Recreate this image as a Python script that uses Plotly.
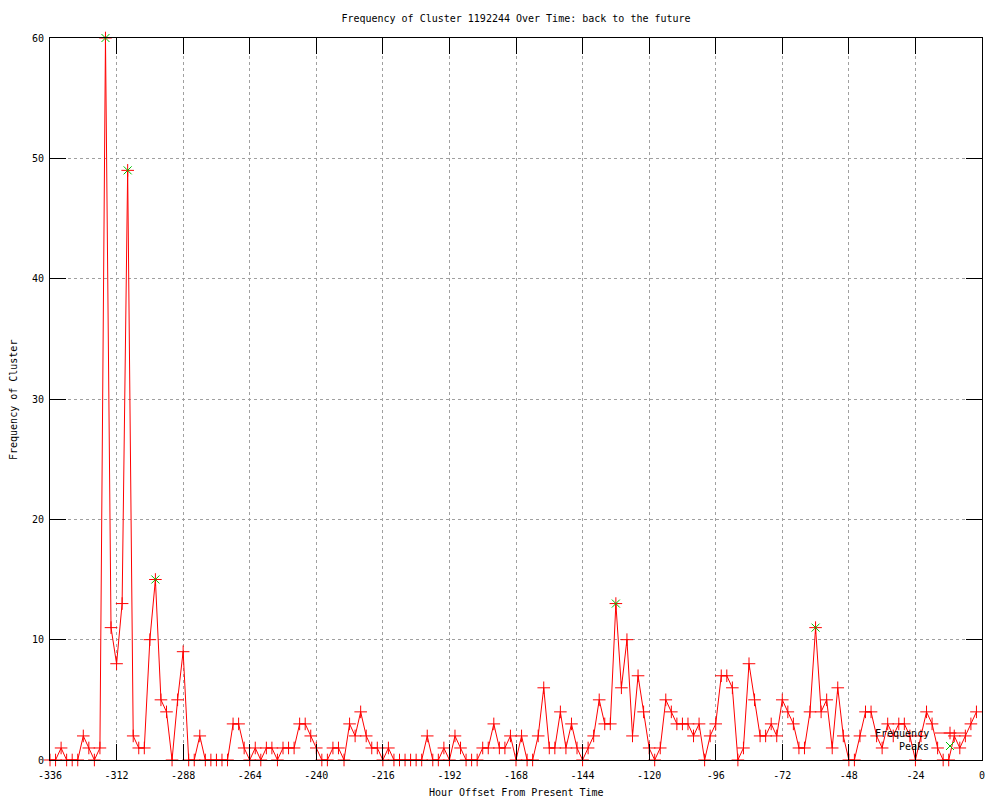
import plotly.graph_objects as go

# ---- data ----
hours = [
    -336, -334, -332, -330, -328, -326, -324, -322, -320, -318, -316, -314,
    -312, -310, -308, -306, -304, -302, -300, -298, -296, -294, -292, -290,
    -288, -286, -284, -282, -280, -278, -276, -274, -272, -270, -268, -266,
    -264, -262, -260, -258, -256, -254, -252, -250, -248, -246, -244, -242,
    -240, -238, -236, -234, -232, -230, -228, -226, -224, -222, -220, -218,
    -216, -214, -212, -210, -208, -206, -204, -202, -200, -198, -196, -194,
    -192, -190, -188, -186, -184, -182, -180, -178, -176, -174, -172, -170,
    -168, -166, -164, -162, -160, -158, -156, -154, -152, -150, -148, -146,
    -144, -142, -140, -138, -136, -134, -132, -130, -128, -126, -124, -122,
    -120, -118, -116, -114, -112, -110, -108, -106, -104, -102, -100, -98,
    -96, -94, -92, -90, -88, -86, -84, -82, -80, -78, -76, -74,
    -72, -70, -68, -66, -64, -62, -60, -58, -56, -54, -52, -50,
    -48, -46, -44, -42, -40, -38, -36, -34, -32, -30, -28, -26,
    -24, -22, -20, -18, -16, -14, -12, -10, -8, -6, -4, -2,
]
frequency = [
    0, 0, 1, 0, 0, 0, 2, 1, 0, 1, 60, 11,
    8, 13, 49, 2, 1, 1, 10, 15, 5, 4, 0, 5,
    9, 0, 0, 2, 0, 0, 0, 0, 0, 3, 3, 1,
    0, 1, 0, 1, 1, 0, 1, 1, 1, 3, 3, 2,
    1, 0, 0, 1, 1, 0, 3, 2, 4, 2, 1, 1,
    0, 1, 0, 0, 0, 0, 0, 0, 2, 0, 0, 1,
    0, 2, 1, 0, 0, 0, 1, 1, 3, 1, 1, 2,
    0, 2, 0, 0, 2, 6, 1, 1, 4, 1, 3, 1,
    0, 1, 2, 5, 3, 3, 13, 6, 10, 2, 7, 4,
    1, 0, 1, 5, 4, 3, 3, 3, 2, 3, 0, 2,
    3, 7, 7, 6, 0, 1, 8, 5, 2, 2, 3, 2,
    5, 4, 3, 1, 1, 4, 11, 4, 5, 1, 6, 2,
    0, 0, 2, 4, 4, 2, 1, 3, 2, 3, 3, 2,
    0, 2, 4, 3, 1, 0, 0, 2, 1, 2, 3, 4,
]
peak_hours = [-316, -308, -298, -132, -60]
peak_values = [60, 49, 15, 13, 11]

x_ticks = [-336, -312, -288, -264, -240, -216, -192, -168, -144, -120, -96, -72, -48, -24, 0]
y_ticks = [0, 10, 20, 30, 40, 50, 60]

FONT = "DejaVu Sans Mono"
RED = "#ff0000"
GREEN = "#00c000"

W, H = 1000, 800
ML, MR, MT, MB = 50, 18, 38, 40
PW, PH = W - ML - MR, H - MT - MB


def px_x(p):  # pixel -> paper x
    return (p - ML) / PW


def px_y(p):  # pixel -> paper y
    return (H - MB - p) / PH


fig = go.Figure()
fig.add_trace(go.Scatter(
    x=hours, y=frequency, mode="lines+markers", name="",
    line=dict(color=RED, width=1),
    marker=dict(symbol="cross-thin", size=9, line=dict(color=RED, width=1), color=RED),
    cliponaxis=False, legend="legend", showlegend=True,
))
fig.add_trace(go.Scatter(
    x=peak_hours, y=peak_values, mode="markers", name="",
    marker=dict(symbol="x-thin", size=8, line=dict(color=GREEN, width=1), color=GREEN),
    cliponaxis=False, legend="legend2", showlegend=True,
))

axis_common = dict(
    showline=True, linecolor="black", linewidth=1, mirror="ticks",
    ticks="inside", ticklen=16, tickcolor="black", tickwidth=1,
    showgrid=True, gridcolor="#a0a0a0", griddash="dot", gridwidth=1,
    zeroline=False, automargin=False,
    tickfont=dict(family=FONT, size=10, color="black"),
)

fig.update_xaxes(
    range=[-336, 0], tickvals=x_ticks, ticktext=[str(v) for v in x_ticks],
    ticklabelstandoff=6, **axis_common,
)
fig.update_yaxes(
    range=[0, 60], tickvals=y_ticks, ticktext=[str(v) for v in y_ticks],
    ticklabelstandoff=3, **axis_common,
)

legend_common = dict(
    bgcolor="rgba(0,0,0,0)", borderwidth=0, xanchor="left", yanchor="middle",
    font=dict(family=FONT, size=10, color="black"), itemwidth=30,
)
txt = dict(family=FONT, size=10, color="black")
fig.update_layout(
    width=W, height=H,
    margin=dict(l=ML, r=MR, t=MT, b=MB, pad=0),
    paper_bgcolor="white", plot_bgcolor="white",
    title=dict(text="Frequency of Cluster 1192244 Over Time: back to the future",
               x=0.5, xref="paper", y=1 - 18 / H, yanchor="middle", font=txt),
    legend=dict(x=px_x(930), y=px_y(733), **legend_common),
    legend2=dict(x=px_x(930), y=px_y(746), **legend_common),
    annotations=[
        dict(text="Frequency", xref="paper", yref="paper", x=px_x(931), y=px_y(733),
             xanchor="right", yanchor="middle", showarrow=False, font=txt),
        dict(text="Peaks", xref="paper", yref="paper", x=px_x(931), y=px_y(746),
             xanchor="right", yanchor="middle", showarrow=False, font=txt),
        dict(text="Hour Offset From Present Time", xref="paper", yref="paper",
             x=0.5, y=px_y(793), xanchor="center", yanchor="middle", showarrow=False, font=txt),
        dict(text="Frequency of Cluster", xref="paper", yref="paper", textangle=-90,
             x=px_x(13), y=px_y(400), xanchor="center", yanchor="middle", showarrow=False, font=txt),
    ],
)

fig.write_html("out.html", config={"displayModeBar": False},
               post_script="document.body.style.margin='0px';")
